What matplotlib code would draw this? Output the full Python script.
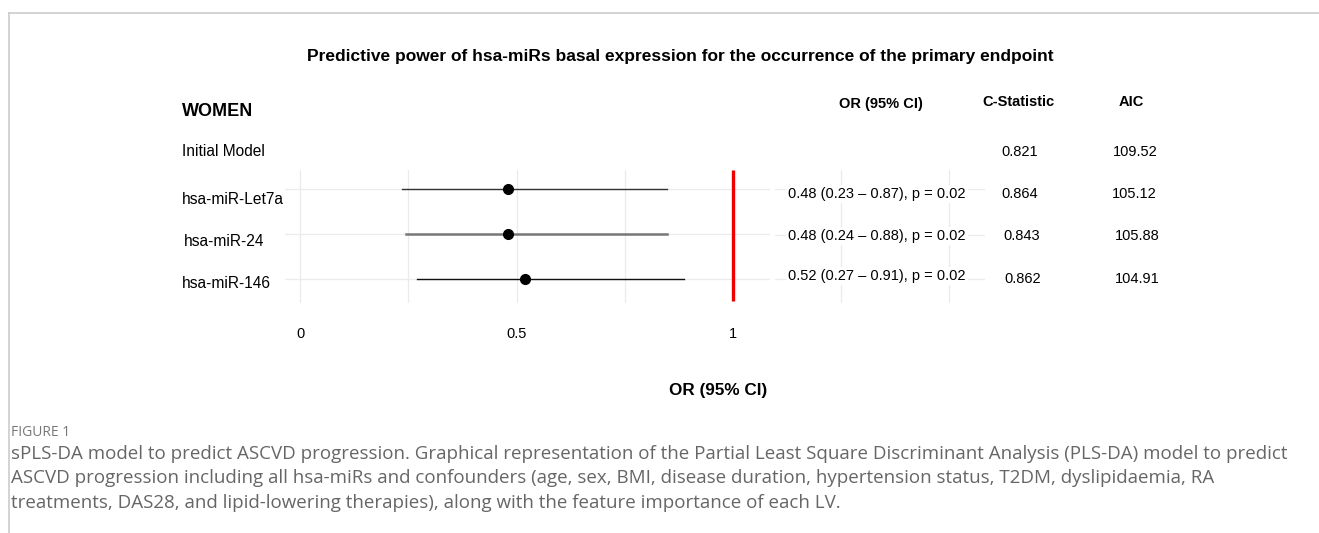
import matplotlib
matplotlib.use("Agg")
import matplotlib.pyplot as plt
from matplotlib.lines import Line2D

# data
rows = ["hsa-miR-Let7a", "hsa-miR-24", "hsa-miR-146"]
or_est = [0.48, 0.48, 0.52]
ci_low = [0.235, 0.245, 0.27]
ci_high = [0.848, 0.848, 0.887]
or_text = ["0.48 (0.23 – 0.87), p = 0.02",
           "0.48 (0.24 – 0.88), p = 0.02",
           "0.52 (0.27 – 0.91), p = 0.02"]
model_labels = ["Initial Model"] + rows
c_stat = ["0.821", "0.864", "0.843", "0.862"]
aic = ["109.52", "105.12", "105.88", "104.91"]
x_ticks = [0, 0.5, 1]
x_tick_labels = ["0", "0.5", "1"]

W, H = 1319, 533
plt.rcParams['font.family'] = ['Liberation Sans', 'DejaVu Sans']
fig = plt.figure(figsize=(W / 100, H / 100), dpi=100)


def px(x, y):
    return x / W, 1 - y / H


def ax_rect(x0, y0, x1, y1):
    return [x0 / W, 1 - y1 / H, (x1 - x0) / W, (y1 - y0) / H]


# frame of the figure panel
fig.add_artist(Line2D([9 / W, 1], [1 - 13 / H] * 2, color="#cccccc", lw=1.2))
fig.add_artist(Line2D([9 / W] * 2, [0, 1 - 13 / H], color="#cccccc", lw=1.2))

# forest plot axes
ax = fig.add_axes(ax_rect(285, 170, 770, 303))
ax.set_xlim(-0.035, 1.085)
ax.set_ylim(0.47, 3.42)
ypos = [3, 2, 1]
for v in [0, 0.25, 0.5, 0.75]:
    ax.axvline(v, color="#ebebeb", lw=0.9, zorder=0)
for y in ypos:
    ax.axhline(y, color="#ebebeb", lw=0.9, zorder=0)
line_cols = ["#333333", "#777777", "#111111"]
line_w = [1.0, 1.8, 1.0]
for y, lo, hi, est, c, lw in zip(ypos, ci_low, ci_high, or_est, line_cols, line_w):
    ax.plot([lo, hi], [y, y], color=c, lw=lw, zorder=2)
    ax.plot(est, y, "o", color="black", ms=7, zorder=3)
ax.plot([1, 1], [0.52, 3.42], color="#ee0000", lw=2.4, zorder=4, solid_capstyle="butt")
ax.set_xticks(x_ticks)
ax.set_xticklabels(x_tick_labels, fontsize=10.5)
ax.tick_params(axis="x", length=0, pad=17)
ax.set_yticks([])
for s in ax.spines.values():
    s.set_visible(False)

# table gridlines
tab = fig.add_axes(ax_rect(775, 170, 985, 303))
tab.set_xlim(775, 985)
tab.set_ylim(303, 170)
for xg in [841, 949]:
    tab.axvline(xg, color="#ebebeb", lw=0.9, zorder=0)
for yg in [189, 235, 279]:
    tab.axhline(yg, color="#ebebeb", lw=0.9, zorder=0)
tab.axis("off")

# title and headers
fig.text(*px(680, 57), "Predictive power of hsa-miRs basal expression for the occurrence of the primary endpoint",
         ha="center", va="center", fontsize=12.5, fontweight="bold")
fig.text(*px(182, 111), "WOMEN", ha="left", va="center", fontsize=13, fontweight="bold")
fig.text(*px(881, 104), "OR (95% CI)", ha="center", va="center", fontsize=10.5, fontweight="bold")
fig.text(*px(1018, 102), "C-Statistic", ha="center", va="center", fontsize=10.5, fontweight="bold")
fig.text(*px(1131, 102), "AIC", ha="center", va="center", fontsize=10.5, fontweight="bold")

# row labels and table values
label_x = [182, 182, 184, 182]
label_y = [152, 199, 241, 284]
c_x = [1020, 1020, 1022, 1023]
c_y = [152, 194, 236, 279]
a_x = [1135, 1134, 1137, 1137]
for lab, lx, ly in zip(model_labels, label_x, label_y):
    fig.text(*px(lx, ly), lab, ha="left", va="center", fontsize=11.2)
for cs, a, cx, cy, ax_ in zip(c_stat, aic, c_x, c_y, a_x):
    fig.text(*px(cx, cy), cs, ha="center", va="center", fontsize=10.5)
    fig.text(*px(ax_, cy), a, ha="center", va="center", fontsize=10.5)
or_y = [194, 236, 276]
for t, oy in zip(or_text, or_y):
    fig.text(*px(877, oy), t, ha="center", va="center", fontsize=10.5,
             bbox=dict(facecolor="white", edgecolor="none", pad=1.5))

fig.text(*px(718, 391), "OR (95% CI)", ha="center", va="center", fontsize=12.3, fontweight="bold")

# caption
fig.text(*px(11, 432), "FIGURE 1", ha="left", va="center", fontsize=10,
         color="#777777", family="Open Sans")
caption = ["sPLS-DA model to predict ASCVD progression. Graphical representation of the Partial Least Square Discriminant Analysis (PLS-DA) model to predict",
           "ASCVD progression including all hsa-miRs and confounders (age, sex, BMI, disease duration, hypertension status, T2DM, dyslipidaemia, RA",
           "treatments, DAS28, and lipid-lowering therapies), along with the feature importance of each LV."]
for i, line in enumerate(caption):
    fig.text(*px(11, 454 + 24.3 * i), line, ha="left", va="center", fontsize=13.5,
             color="#666666", family="Open Sans")

fig.savefig("out.png", dpi=100)
